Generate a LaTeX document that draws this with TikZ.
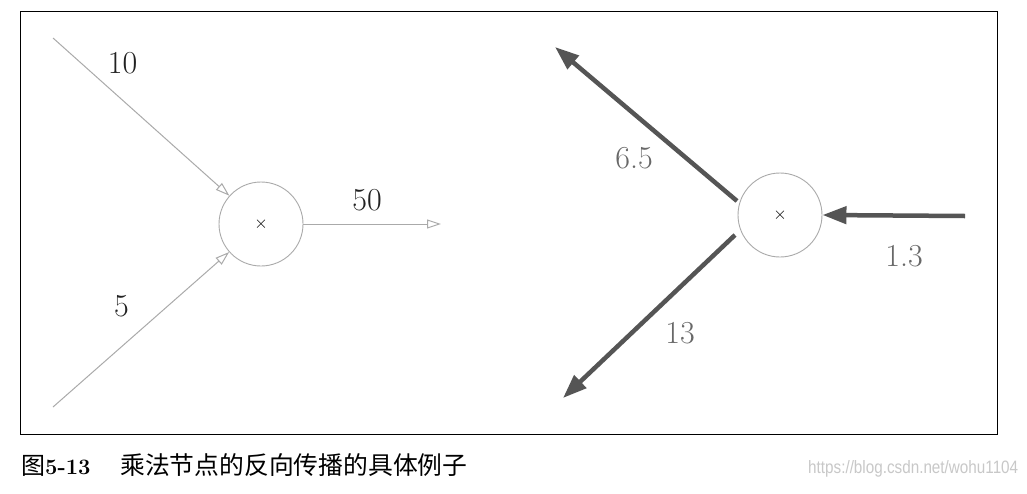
\documentclass[tikz,border=0pt]{standalone}
\usepackage{fontspec}
\newfontfamily\cjkfont{Noto Sans CJK SC}
\newfontfamily\wmfont{Liberation Sans}
\usetikzlibrary{arrows.meta}
\definecolor{lightline}{HTML}{AAAAAA}
\definecolor{darkline}{HTML}{555555}
\definecolor{darklabel}{HTML}{686868}
\definecolor{lightlabel}{HTML}{222222}
\definecolor{wmgray}{HTML}{C8C8C8}
\tikzset{
  mulnode/.style={circle,draw=lightline,line width=0.9pt,minimum size=84pt,inner sep=0pt,font=\fontsize{18}{20}\selectfont},
  fwdarrow/.style={draw=lightline,line width=1pt,-{Triangle[open,length=14pt,width=9pt]}},
  bwdarrow/.style={draw=darkline,line width=4.5pt,-{Triangle[length=24pt,width=17pt]}},
  fwdlabel/.style={text=lightlabel,font=\fontsize{32}{36}\selectfont,inner sep=0pt},
  bwdlabel/.style={text=darklabel,font=\fontsize{32}{36}\selectfont,inner sep=0pt},
}
\begin{document}
\begin{tikzpicture}[x=1pt,y=-1pt]
\useasboundingbox[fill=white] (0,0) rectangle (1027,493);
\draw[line width=0.9pt] (20,11) rectangle (997,434);
% left: forward
\node[mulnode] (m1) at (261,224) {$\times$};
\coordinate (a1) at (53,38);
\coordinate (a2) at (53,407);
\coordinate (o1) at (441,224);
\draw[fwdarrow] (a1) -- (m1);
\draw[fwdarrow] (a2) -- (m1);
\draw[fwdarrow] (m1) -- (o1);
\node[fwdlabel] (l10) at (122.5,63) {10};
\node[fwdlabel] (l5) at (121.5,306) {5};
\node[fwdlabel] (l50) at (367,200) {50};
% right: backward
\node[mulnode] (m2) at (780,215) {$\times$};
\coordinate (b1s) at (737,201);
\coordinate (b1e) at (555,47);
\coordinate (b2s) at (735,235);
\coordinate (b2e) at (563,398);
\coordinate (c1) at (965,216);
\draw[bwdarrow] (b1s) -- (b1e);
\draw[bwdarrow] (b2s) -- (b2e);
\draw[bwdarrow] (c1) -- (m2.east);
\node[bwdlabel] (l65) at (634,158) {6.5};
\node[bwdlabel] (l13) at (680,333) {13};
\node[bwdlabel] (l13b) at (904,256) {1.3};
% caption
\node[anchor=base west,inner sep=0pt] (cap) at (21,474)
  {{\cjkfont\fontsize{24}{28}\selectfont 图}{\fontsize{22}{26}\selectfont\bfseries 5-13}};
\node[anchor=base west,inner sep=0pt] (capt) at (120,474)
  {\cjkfont\fontsize{24.8}{28}\selectfont 乘法节点的反向传播的具体例子};
\node[anchor=base west,inner sep=0pt,text=wmgray] (wm) at (808,473)
  {\resizebox{210pt}{13pt}{\wmfont https://blog.csdn.net/wohu1104}};
\end{tikzpicture}
\end{document}
